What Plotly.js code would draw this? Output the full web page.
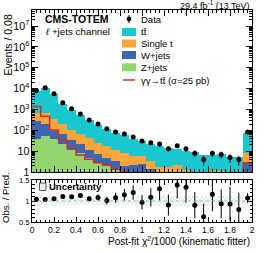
<!DOCTYPE html>
<html><head><meta charset="utf-8">
<script src="https://cdn.plot.ly/plotly-3.0.1.min.js"></script>
<style>html,body{margin:0;padding:0;background:#fff}#chart{width:266px;height:253px}</style>
</head><body><div id="chart"></div>
<script>
// ---- data ----
const binCenters = [0.04,0.12,0.20,0.28,0.36,0.44,0.52,0.60,0.68,0.76,0.84,0.92,1.00,1.08,1.16,1.24,1.32,1.40,1.48,1.56,1.64,1.72,1.80,1.88,1.96];
const binWidth = 0.08;
const dataEvents = [8000,11000,5600,2100,1070,610,316,200,120,84,67,48,31,25,22,13,18,13,8,4,8,7,5,4,84];
const dataErr    = [89,105,75,46,33,25,18,14,11,9.2,8.2,6.9,5.6,5,4.7,3.6,4.2,3.6,2.8,2,2.8,2.6,2.2,2,9.2];
const ttbar      = [6990,9890,4960,1705,870,475,259,160,101,67,50,34,26,19.6,15.3,12.7,10.8,8.6,8.1,5.6,5.8,6.4,4.7,4.4,70];
const singleTop  = [430,515,246,130,67,44,29,18,13,7.6,6.4,3.7,3.4,2.05,0.9,1.0,1.4,0.6,0.4,0.4,0.6,0.6,0.4,0.3,5.4];
const wJets      = [243,141,57,44,21,12.6,7.1,4.2,3.0,2.2,1.2,1.6,2.0,1.05,0.5,0.5,0.6,0.4,0.3,0.3,0.4,0.4,0.2,0.2,2.5];
const zJets      = [37,54,37,21,12,8.4,4.9,2.8,1.9,1.2,0.8,0.6,0.5,0.3,0.3,0.2,0.2,0.2,0.1,0.1,0.1,0.1,0.1,0.1,0.5];
const signalGG   = [1400,470,102,33,14.7,6.5,4.1,2.8,2.2,1.35,1.04,0.8,0.6,0.5,0.4,0.3,0.3,0.3,0.2,0.2,0.2,0.2,0.2,0.2,2.8];
const uncRel     = [0.09,0.09,0.09,0.09,0.09,0.09,0.1,0.1,0.1,0.1,0.1,0.1,0.11,0.11,0.11,0.12,0.12,0.12,0.12,0.12,0.12,0.11,0.11,0.1,0.07];

const labels = {
  data:'Data', tt:'tt\u0304', st:'Single t', w:'W+jets', z:'Z+jets',
  sig:'\u03b3\u03b3\u2192tt\u0304 (\u03c3=25 pb)'
};
const colors = {tt:'#19c8cf', st:'#ffa43a', w:'#3b67b1', z:'#94d66e', sig:'#d9262b'};

// ---- derived ----
const total = binCenters.map((_,i)=>ttbar[i]+singleTop[i]+wJets[i]+zJets[i]);
const ratio = dataEvents.map((d,i)=>d/total[i]);
const ratioErr = dataErr.map((e,i)=>e/total[i]);
const edges = binCenters.map(c=>c-binWidth/2).concat([binCenters[binCenters.length-1]+binWidth/2]);
const sigStep = signalGG.concat([signalGG[signalGG.length-1]]);

const FONT = 'Liberation Sans, Arial, Helvetica, sans-serif';
const PX = p => (p-32)/220;
const PY = p => (222-p)/212;

function stackBar(y, name, color){
  return {type:'bar', x:binCenters, y:y, width:binWidth, name:name, xaxis:'x2', yaxis:'y',
          marker:{color:color, line:{width:0}}, hoverinfo:'skip', showlegend:false};
}
const traces = [
  stackBar(zJets, labels.z, colors.z),
  stackBar(wJets, labels.w, colors.w),
  stackBar(singleTop, labels.st, colors.st),
  stackBar(ttbar, labels.tt, colors.tt),
  {type:'scatter', mode:'lines', x:edges, y:sigStep, line:{shape:'hv', color:colors.sig, width:1.5},
   xaxis:'x2', yaxis:'y', showlegend:false},
  {type:'scatter', mode:'markers', x:binCenters, y:dataEvents, xaxis:'x2', yaxis:'y',
   marker:{color:'black', size:5}, error_y:{type:'data', array:dataErr, color:'black', thickness:1, width:0},
   showlegend:false},
  {type:'bar', x:binCenters, y:uncRel.map(u=>2*u), base:uncRel.map(u=>1-u), width:binWidth,
   xaxis:'x', yaxis:'y2', marker:{color:'#c9ece6', line:{width:0},
   pattern:{shape:'x', fgcolor:'#a3dcd2', size:3, solidity:0.3}}, showlegend:false, hoverinfo:'skip'},
  {type:'scatter', mode:'markers', x:binCenters, y:ratio, xaxis:'x', yaxis:'y2',
   marker:{color:'black', size:5}, error_y:{type:'data', array:ratioErr, color:'black', thickness:1, width:0},
   showlegend:false}
];

// manual legend
const legItems = [
  {key:'tt', py:32}, {key:'st', py:43.5}, {key:'w', py:55}, {key:'z', py:67.3}
];
const shapes = [];
const annotations = [];
legItems.forEach(it=>{
  shapes.push({type:'rect', xref:'paper', yref:'paper', x0:PX(122), x1:PX(136), y0:PY(it.py+4), y1:PY(it.py-4),
               fillcolor:colors[it.key], line:{width:0}});
  annotations.push({xref:'paper', yref:'paper', x:PX(138.5), y:PY(it.py), xanchor:'left', yanchor:'middle',
                    text:labels[it.key], showarrow:false, font:{family:FONT, size:9.5, color:'black'}});
});
// data legend
shapes.push({type:'line', xref:'paper', yref:'paper', x0:PX(129), x1:PX(129), y0:PY(15), y1:PY(23), line:{color:'black', width:1}});
shapes.push({type:'circle', xref:'paper', yref:'paper', x0:PX(126.6), x1:PX(131.4), y0:PY(21.4), y1:PY(16.6), fillcolor:'black', line:{width:0}});
annotations.push({xref:'paper', yref:'paper', x:PX(138.5), y:PY(19), xanchor:'left', yanchor:'middle',
                  text:labels.data, showarrow:false, font:{family:FONT, size:9.5, color:'black'}});
// signal legend
shapes.push({type:'line', xref:'paper', yref:'paper', x0:PX(123), x1:PX(135), y0:PY(80), y1:PY(80), line:{color:colors.sig, width:1.5}});
annotations.push({xref:'paper', yref:'paper', x:PX(138.5), y:PY(80), xanchor:'left', yanchor:'middle',
                  text:labels.sig, showarrow:false, font:{family:FONT, size:9.5, color:'black'}});
// uncertainty legend
shapes.push({type:'rect', xref:'paper', yref:'paper', x0:PX(39.5), x1:PX(46), y0:PY(190.5), y1:PY(183),
             fillcolor:'#dff3ef', line:{color:'#333', width:0.8}});
annotations.push({xref:'paper', yref:'paper', x:PX(47), y:PY(186.8), xanchor:'left', yanchor:'middle',
                  text:'<b>Uncertainty</b>', showarrow:false, font:{family:FONT, size:9.5, color:'black'}});
// ratio reference line
shapes.push({type:'line', xref:'x', yref:'y2', x0:0, x1:2, y0:1, y1:1, line:{color:'#999', width:0.7, dash:'dot'}, layer:'above'});

// texts
annotations.push(
  {xref:'paper', yref:'paper', x:PX(42.5), y:PY(19.5), xanchor:'left', yanchor:'middle', showarrow:false,
   text:'<b>CMS-TOTEM</b>', font:{family:FONT, size:10.5, color:'black'}},
  {xref:'paper', yref:'paper', x:PX(42.5), y:PY(31.5), xanchor:'left', yanchor:'middle', showarrow:false,
   text:'<i>\u2113</i> +jets channel', font:{family:FONT, size:9.8, color:'black'}},
  {xref:'paper', yref:'paper', x:PX(252), y:PY(5), xanchor:'right', yanchor:'middle', showarrow:false,
   text:'29.4 fb<sup>-1</sup> (13 TeV)', font:{family:FONT, size:9, color:'black'}},
  {xref:'paper', yref:'paper', x:PX(252.5), y:PY(241), xanchor:'right', yanchor:'middle', showarrow:false,
   text:'Post-fit \u03c7<sup>2</sup>/1000 (kinematic fitter)', font:{family:FONT, size:10, color:'black'}},
  {xref:'paper', yref:'paper', x:PX(7.5), y:PY(12.5), xanchor:'center', yanchor:'top', showarrow:false, textangle:-90,
   text:'Events / 0.08', font:{family:FONT, size:10.5, color:'black'}},
  {xref:'paper', yref:'paper', x:PX(5), y:PY(198), xanchor:'center', yanchor:'middle', showarrow:false, textangle:-90,
   text:'Obs. / Pred.', font:{family:FONT, size:9.5, color:'black'}}
);

const axCommon = {showline:true, linecolor:'black', linewidth:1, mirror:'allticks', ticks:'inside',
                  tickcolor:'black', zeroline:false, showgrid:false, tickfont:{family:FONT, size:8.5, color:'black'}};
const layout = {
  width:266, height:253, margin:{l:32, r:14, t:10, b:31},
  paper_bgcolor:'white', plot_bgcolor:'white', barmode:'stack', bargap:0, showlegend:false,
  xaxis: Object.assign({}, axCommon, {domain:[0,1], anchor:'y2', range:[0,2], dtick:0.2, tick0:0, ticklen:5,
          minor:{ticks:'inside', dtick:0.04, ticklen:2.5, tickcolor:'black'}}),
  xaxis2: Object.assign({}, axCommon, {domain:[0,1], anchor:'y', matches:'x', range:[0,2], dtick:0.2, tick0:0, ticklen:6,
          showticklabels:false, minor:{ticks:'inside', dtick:0.04, ticklen:3, tickcolor:'black'}}),
  yaxis: Object.assign({}, axCommon, {domain:[PY(172),1], anchor:'x2', type:'log', range:[0,7.77], dtick:1,
          exponentformat:'power', ticklen:6, minor:{ticks:'inside', ticklen:3, tickcolor:'black', dtick:'D1'}}),
  yaxis2: Object.assign({}, axCommon, {domain:[0,PY(180)], anchor:'x', range:[0.499,1.501], tickvals:[0.5,1,1.5],
          ticktext:['0.5','1','1.5'], ticklen:5, tickfont:{family:FONT, size:7.5, color:'black'},
          minor:{ticks:'inside', tickvals:[0.6,0.7,0.8,0.9,1.1,1.2,1.3,1.4], ticklen:2.5, tickcolor:'black'}}),
  shapes:shapes, annotations:annotations
};
Plotly.newPlot('chart', traces, layout, {staticPlot:true, displayModeBar:false});
</script></body></html>
